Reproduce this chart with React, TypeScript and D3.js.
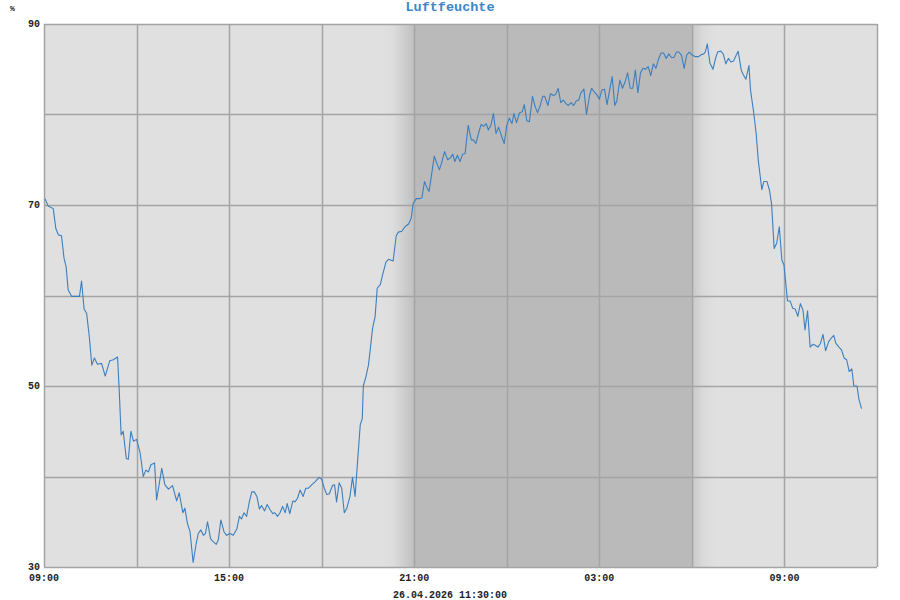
import React, { useEffect, useRef } from "react";
import * as d3 from "d3";

// minutes after 25.04.2026 09:00 and relative humidity (%)
const sampleMinutes = [
  2, 8, 18, 23, 28, 34, 39, 43, 47, 54, 69, 73, 78, 83, 88, 93, 98, 104, 112, 119,
  128, 135, 143, 146, 150, 154, 160, 164, 169, 174, 180, 187, 193, 198, 203, 208, 215, 219, 229, 235,
  242, 250, 258, 263, 270, 274, 279, 284, 290, 296, 300, 305, 310, 314, 318, 324, 329, 335, 339, 344,
  350, 355, 362, 368, 375, 380, 384, 389, 394, 399, 404, 409, 414, 419, 423, 429, 434, 440, 445, 449,
  454, 459, 464, 469, 473, 478, 484, 488, 493, 498, 504, 509, 514, 521, 527, 535, 540, 545, 550, 555,
  561, 565, 569, 574, 579, 584, 589, 595, 600, 605, 609, 615, 619,
  621, 626, 631, 635, 639, 644, 648, 654, 659, 665, 670, 679, 685, 689, 696, 702, 709, 714, 718, 724,
  730, 735, 740, 744, 749, 759, 764, 769, 773, 779, 785, 790, 795, 799, 804, 809, 814, 819, 825, 831,
  835, 840, 845, 850, 855, 860, 864, 869, 874, 879, 884, 890, 895, 900, 905, 910, 914, 919, 925, 930,
  934, 939, 944, 950, 955, 960, 965, 970, 974, 980, 985, 991, 995, 1000, 1005, 1010, 1015, 1020, 1025, 1030,
  1035, 1040, 1044, 1050, 1055, 1061, 1065, 1070, 1075, 1080, 1085, 1090, 1095, 1100, 1105, 1110, 1114, 1120, 1125, 1130,
  1135, 1140, 1145, 1150, 1155, 1160, 1165, 1170, 1175, 1180, 1185, 1190, 1195, 1200, 1205, 1210, 1215, 1220, 1225, 1230,
  1235, 1240, 1245, 1250, 1255, 1260, 1266, 1273, 1278, 1283, 1286, 1290, 1295, 1301, 1306, 1310, 1316, 1321, 1326, 1331,
  1336, 1341, 1345, 1350, 1356, 1360, 1365, 1371, 1374, 1380, 1385, 1389, 1396, 1400, 1406, 1411, 1415, 1420, 1425, 1430,
  1435, 1439, 1446, 1451, 1456, 1461, 1466, 1471, 1476, 1480, 1485, 1490, 1495, 1500, 1505, 1510, 1515, 1520, 1526, 1531,
  1536, 1540, 1546, 1551, 1556, 1561, 1566, 1571, 1575, 1581, 1585, 1590,
];

const humidity = [
  70.7, 69.9, 69.6, 67.4, 66.7, 66.6, 64.1, 63.2, 60.6, 59.9, 59.9, 61.6, 58.5, 58.0, 55.5, 52.3, 53.1, 52.4, 52.5, 51.1,
  52.8, 52.9, 53.2, 49.9, 44.6, 45.0, 42.0, 41.9, 45.0, 43.9, 44.1, 42.6, 40.0, 40.7, 40.5, 41.3, 41.5, 37.4, 40.9, 39.1,
  38.6, 39.0, 37.3, 38.2, 36.0, 36.5, 34.8, 33.9, 30.5, 32.6, 33.7, 34.1, 33.5, 33.7, 35.0, 33.1, 32.8, 32.5, 33.0, 35.2,
  33.9, 33.5, 33.7, 33.5, 34.2, 35.6, 35.3, 36.0, 35.6, 37.1, 38.3, 38.3, 37.8, 36.4, 36.8, 36.2, 36.9, 36.3, 35.9, 36.0,
  35.6, 36.0, 36.7, 36.0, 37.0, 35.9, 37.3, 37.2, 37.6, 38.5, 37.8, 38.7, 38.7, 39.1, 39.4, 39.9, 39.7, 38.7, 38.0, 38.1,
  39.0, 39.1, 37.2, 39.3, 38.7, 36.0, 36.5, 37.8, 39.9, 37.8, 41.0, 45.7, 46.4,
  50.0, 51.0, 52.3, 54.3, 56.4, 57.7, 60.8, 61.2, 62.4, 63.7, 64.0, 63.8, 66.6, 67.0, 67.1, 67.6, 67.9, 68.5, 70.2, 70.7,
  70.7, 70.8, 72.6, 72.0, 71.5, 75.4, 74.6, 73.9, 74.6, 75.9, 75.0, 75.2, 75.6, 74.8, 75.5, 74.8, 75.6, 75.7, 78.8, 77.2,
  77.2, 76.8, 77.9, 78.9, 78.7, 79.0, 78.3, 78.8, 80.1, 77.9, 78.6, 77.6, 76.8, 78.8, 79.6, 79.0, 80.1, 79.1, 80.2, 80.3,
  81.1, 79.3, 79.2, 82.0, 80.9, 80.2, 81.0, 82.0, 82.0, 81.0, 82.3, 82.1, 82.2, 82.9, 81.3, 81.6, 81.2, 81.0, 81.3, 81.0,
  81.5, 81.6, 82.4, 82.8, 80.0, 82.1, 82.9, 82.5, 82.2, 81.7, 82.7, 82.8, 81.1, 82.7, 84.2, 81.0, 81.5, 83.8, 82.9, 83.6,
  84.6, 82.9, 82.9, 84.9, 82.4, 84.6, 85.1, 85.0, 85.3, 84.3, 85.6, 85.1, 86.1, 86.8, 86.8, 86.2, 86.7, 86.3, 86.3, 86.9,
  86.9, 86.5, 85.1, 86.6, 86.9, 86.6, 86.4, 86.4, 86.6, 86.7, 86.9, 87.8, 85.7, 85.0, 86.2, 86.9, 87.0, 86.7, 85.6, 86.2,
  85.8, 85.9, 86.4, 87.0, 84.9, 84.4, 83.9, 85.4, 82.7, 80.3, 77.9, 75.0, 71.7, 72.6, 72.6, 71.6, 70.1, 65.2, 65.8, 67.6,
  63.9, 63.4, 59.4, 59.4, 58.6, 58.5, 57.7, 59.1, 58.4, 56.2, 58.3, 54.3, 54.6, 54.5, 54.3, 54.7, 55.7, 53.9, 54.9, 55.3,
  55.6, 54.7, 54.3, 54.0, 53.1, 52.9, 51.6, 51.9, 50.0, 50.0, 48.5, 47.5,
];

const yLabelValues = [90, 70, 50, 30];
const yGridValues = [30, 40, 50, 60, 70, 80, 90];

const start = new Date(2026, 3, 25, 9, 0);
const end = new Date(2026, 3, 26, 12, 0);
const duskStart = new Date(2026, 3, 25, 19, 55);
const nightStart = new Date(2026, 3, 25, 21, 0);
const nightEnd = new Date(2026, 3, 26, 6, 0);
const dawnEnd = new Date(2026, 3, 26, 6, 45);

const W = 900;
const H = 600;
const left = 44;
const right = 877;
const top = 24;
const bottom = 567;

const App = () => {
  const ref = useRef<SVGSVGElement>(null);

  useEffect(() => {
    const svg = d3.select(ref.current);
    svg.selectAll("*").remove();

    const x = d3.scaleTime().domain([start, end]).range([left, right]);
    const y = d3.scaleLinear().domain([30, 90]).range([bottom, top]);
    const data = d3.zip(sampleMinutes, humidity).map(([m, v]) => ({
      t: d3.timeMinute.offset(start, m),
      v,
    }));

    const defs = svg.append("defs");
    const dusk = defs.append("linearGradient").attr("id", "dusk");
    dusk.append("stop").attr("offset", "0%").attr("stop-color", "#e0e0e0");
    dusk.append("stop").attr("offset", "35%").attr("stop-color", "#dddddd");
    dusk.append("stop").attr("offset", "100%").attr("stop-color", "#c0c0c0");
    const dawn = defs.append("linearGradient").attr("id", "dawn");
    dawn.append("stop").attr("offset", "0%").attr("stop-color", "#c8c8c8");
    dawn.append("stop").attr("offset", "50%").attr("stop-color", "#dadada");
    dawn.append("stop").attr("offset", "100%").attr("stop-color", "#e0e0e0");

    // background with night shading
    svg.append("rect")
      .attr("x", left).attr("y", top)
      .attr("width", right - left).attr("height", bottom - top)
      .attr("fill", "#e0e0e0");
    svg.append("rect")
      .attr("x", x(duskStart)).attr("y", top)
      .attr("width", x(nightStart) - x(duskStart)).attr("height", bottom - top)
      .attr("fill", "url(#dusk)");
    svg.append("rect")
      .attr("x", x(nightStart)).attr("y", top)
      .attr("width", x(nightEnd) - x(nightStart)).attr("height", bottom - top)
      .attr("fill", "#bababa");
    svg.append("rect")
      .attr("x", x(nightEnd)).attr("y", top)
      .attr("width", x(dawnEnd) - x(nightEnd)).attr("height", bottom - top)
      .attr("fill", "url(#dawn)");

    // grid
    const px = (v: number) => Math.round(v) + 0.5;
    const grid = svg.append("g").attr("stroke", "#a4a4a4").attr("stroke-width", 1.5);
    grid.selectAll("line.h")
      .data(yGridValues)
      .join("line")
      .attr("x1", left).attr("x2", right)
      .attr("y1", (d) => px(y(d))).attr("y2", (d) => px(y(d)));
    grid.selectAll("line.v")
      .data(d3.timeHour.range(start, d3.timeMinute.offset(end, 1), 3))
      .join("line")
      .attr("x1", (d) => px(x(d))).attr("x2", (d) => px(x(d)))
      .attr("y1", top).attr("y2", bottom);

    // line
    const line = d3.line<{ t: Date; v: number }>()
      .x((d) => x(d.t))
      .y((d) => y(d.v));
    svg.append("path")
      .datum(data)
      .attr("d", line)
      .attr("fill", "none")
      .attr("stroke", "#3b7fbf")
      .attr("stroke-width", 1.1)
      .attr("stroke-linejoin", "round");

    const font = "'Liberation Mono', 'DejaVu Sans Mono', monospace";

    // y labels
    svg.append("g")
      .selectAll("text")
      .data(yLabelValues)
      .join("text")
      .attr("x", 40)
      .attr("y", (d) => y(d) + 3)
      .attr("text-anchor", "end")
      .attr("font-family", font)
      .attr("font-weight", "bold")
      .attr("font-size", 10)
      .attr("fill", "#222")
      .text((d) => d);

    // x labels, every 6 hours from the start
    svg.append("g")
      .selectAll("text")
      .data(d3.timeHour.range(start, end, 6))
      .join("text")
      .attr("x", (d) => x(d))
      .attr("y", 581)
      .attr("text-anchor", "middle")
      .attr("font-family", font)
      .attr("font-weight", "bold")
      .attr("font-size", 10)
      .attr("fill", "#222")
      .text((d) => d3.timeFormat("%H:%M")(d));

    svg.append("text")
      .attr("x", 450).attr("y", 598)
      .attr("text-anchor", "middle")
      .attr("font-family", font)
      .attr("font-weight", "bold")
      .attr("font-size", 10)
      .attr("fill", "#222")
      .text("26.04.2026 11:30:00");

    svg.append("text")
      .attr("x", 10).attr("y", 11)
      .attr("font-family", font)
      .attr("font-weight", "bold")
      .attr("font-size", 8)
      .attr("fill", "#222")
      .text("%");

    svg.append("text")
      .attr("x", 450).attr("y", 11)
      .attr("text-anchor", "middle")
      .attr("font-family", font)
      .attr("font-weight", "bold")
      .attr("font-size", 13.5)
      .attr("fill", "#3d85c6")
      .text("Luftfeuchte");
  }, []);

  return (
    <svg
      ref={ref}
      width={W}
      height={H}
      style={{ position: "fixed", left: 0, top: 0, background: "#fff" }}
    />
  );
};

export default App;
